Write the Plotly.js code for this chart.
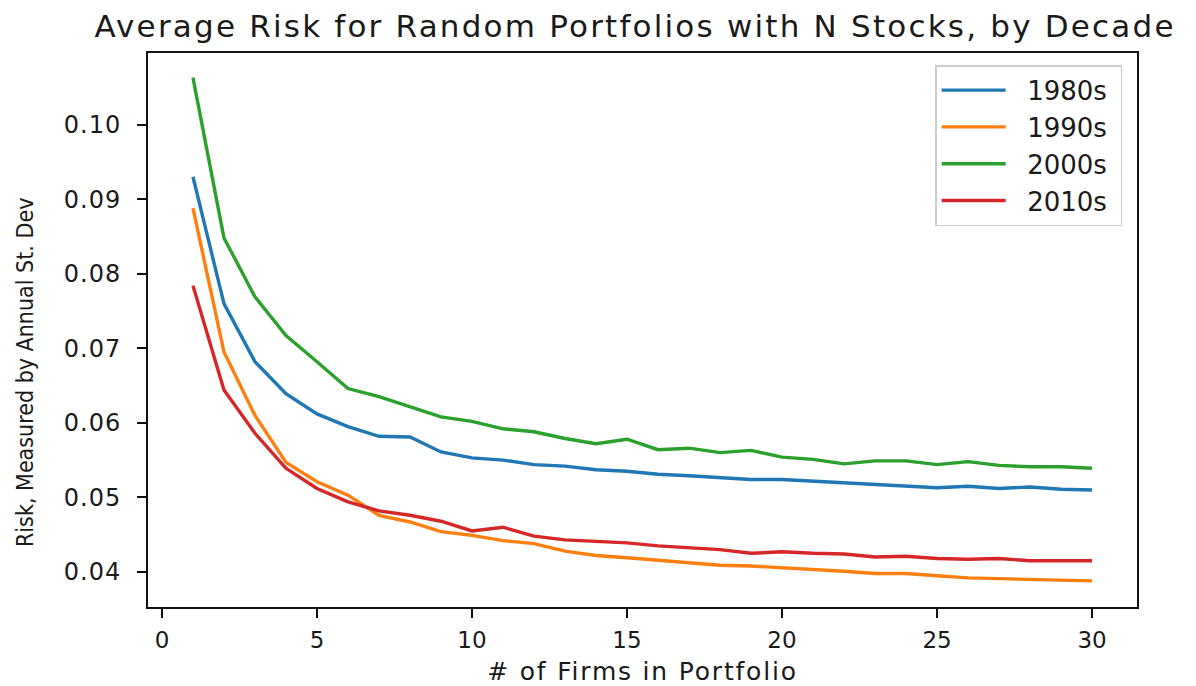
<!DOCTYPE html>
<html>
<head>
<meta charset="utf-8">
<script src="https://cdn.plot.ly/plotly-3.0.1.min.js"></script>
<style>
  html, body { margin: 0; padding: 0; background: #fff; }
  #chart { width: 1196px; height: 686px; }
  .gtitle { letter-spacing: 2.2px; }
  .g-xtitle text { letter-spacing: 1.8px; }
  .ytick text { letter-spacing: 1px; }
</style>
</head>
<body>
<div id="chart"></div>
<script>
const firms = [1,2,3,4,5,6,7,8,9,10,11,12,13,14,15,16,17,18,19,20,21,22,23,24,25,26,27,28,29,30];

const risk1980s = [0.0930,0.0760,0.0682,0.0639,0.0612,0.0595,0.0582,0.0581,0.0561,0.0553,
                   0.0550,0.0544,0.0542,0.0537,0.0535,0.0531,0.0529,0.0527,0.0524,0.0524,
                   0.0522,0.0519,0.0518,0.0515,0.0513,0.0515,0.0512,0.0514,0.0511,0.0510];
const risk1990s = [0.0888,0.0695,0.0610,0.0547,0.0521,0.0503,0.0476,0.0467,0.0454,0.0449,
                   0.0442,0.0438,0.0428,0.0422,0.0419,0.0416,0.0412,0.0409,0.0408,0.0406,
                   0.0404,0.0401,0.0398,0.0398,0.0395,0.0392,0.0391,0.0390,0.0388,0.0388];
const risk2000s = [0.1063,0.0848,0.0769,0.0717,0.0682,0.0646,0.0635,0.0621,0.0608,0.0602,
                   0.0592,0.0588,0.0579,0.0572,0.0578,0.0564,0.0566,0.0560,0.0563,0.0554,
                   0.0551,0.0545,0.0549,0.0549,0.0544,0.0548,0.0543,0.0541,0.0541,0.0539];
const risk2010s = [0.0784,0.0644,0.0586,0.0539,0.0512,0.0494,0.0482,0.0476,0.0468,0.0455,
                   0.0460,0.0448,0.0443,0.0441,0.0439,0.0435,0.0433,0.0430,0.0425,0.0427,
                   0.0425,0.0424,0.0420,0.0421,0.0418,0.0417,0.0418,0.0415,0.0415,0.0415];

const seriesNames = ['1980s','1990s','2000s','2010s'];
const seriesValues = [risk1980s, risk1990s, risk2000s, risk2010s];
const seriesColors = ['#1f77b4','#ff7f0e','#2ca02c','#d62728'];

const xTickVals = [0,5,10,15,20,25,30];
const yTickVals = [0.04,0.05,0.06,0.07,0.08,0.09,0.10];
const yTickText = ['0.04','0.05','0.06','0.07','0.08','0.09','0.10'];

const titleText = 'Average Risk for Random Portfolios with N Stocks, by Decade';
const xTitleText = '# of Firms in Portfolio';
const yTitleText = 'Risk, Measured by Annual St. Dev';

const font = 'DejaVu Sans, Verdana, sans-serif';

const traces = seriesNames.map((name, i) => ({
  type: 'scatter',
  mode: 'lines',
  x: firms,
  y: seriesValues[i],
  name: '\u00a0\u00a0' + name + '\u00a0',
  legendgroup: name,
  line: { color: seriesColors[i], width: 3.4 }
}));

const layout = {
  width: 1196,
  height: 686,
  paper_bgcolor: '#ffffff',
  plot_bgcolor: '#ffffff',
  margin: { l: 148, r: 59, t: 53, b: 79, pad: 0 },
  font: { family: font, color: '#1a1a1a', size: 23 },
  title: {
    text: titleText,
    font: { family: font, size: 31, color: '#1a1a1a' },
    xref: 'container', x: 0.531, xanchor: 'center',
    yref: 'container', y: 0.962, yanchor: 'middle'
  },
  xaxis: {
    range: [-0.45, 31.45],
    tickvals: xTickVals,
    ticktext: xTickVals.map(String),
    showgrid: false, zeroline: false,
    showline: true, linecolor: '#111', linewidth: 2, mirror: true,
    ticks: 'outside', ticklen: 9, tickwidth: 2, tickcolor: '#111',
    tickfont: { family: font, size: 23, color: '#1a1a1a' },
    ticklabelstandoff: 2,
    title: { text: xTitleText, font: { family: font, size: 25, color: '#1a1a1a' }, standoff: 11 }
  },
  yaxis: {
    range: [0.0353, 0.1096],
    tickvals: yTickVals,
    ticktext: yTickText,
    showgrid: false, zeroline: false,
    showline: true, linecolor: '#111', linewidth: 2, mirror: true,
    ticks: 'outside', ticklen: 9, tickwidth: 2, tickcolor: '#111',
    tickfont: { family: font, size: 24, color: '#1a1a1a' },
    ticklabelstandoff: 11
  },
  annotations: [{
    text: yTitleText,
    xref: 'paper', yref: 'paper',
    x: (25 - 148) / 989, y: 1 - (373 - 53) / 554,
    xanchor: 'center', yanchor: 'middle',
    textangle: -90,
    showarrow: false,
    font: { family: 'DejaVu Sans Condensed, DejaVu Sans, sans-serif', size: 23, color: '#1a1a1a' }
  }],
  legend: {
    x: 0.985, xanchor: 'right',
    y: 0.978, yanchor: 'top',
    bgcolor: 'rgba(255,255,255,0.8)',
    bordercolor: '#cccccc', borderwidth: 1.5,
    font: { family: font, size: 26, color: '#1a1a1a' },
    itemwidth: 64,
    tracegroupgap: 0
  },
  showlegend: true
};

Plotly.newPlot('chart', traces, layout, { displayModeBar: false, staticPlot: true });
</script>
</body>
</html>
